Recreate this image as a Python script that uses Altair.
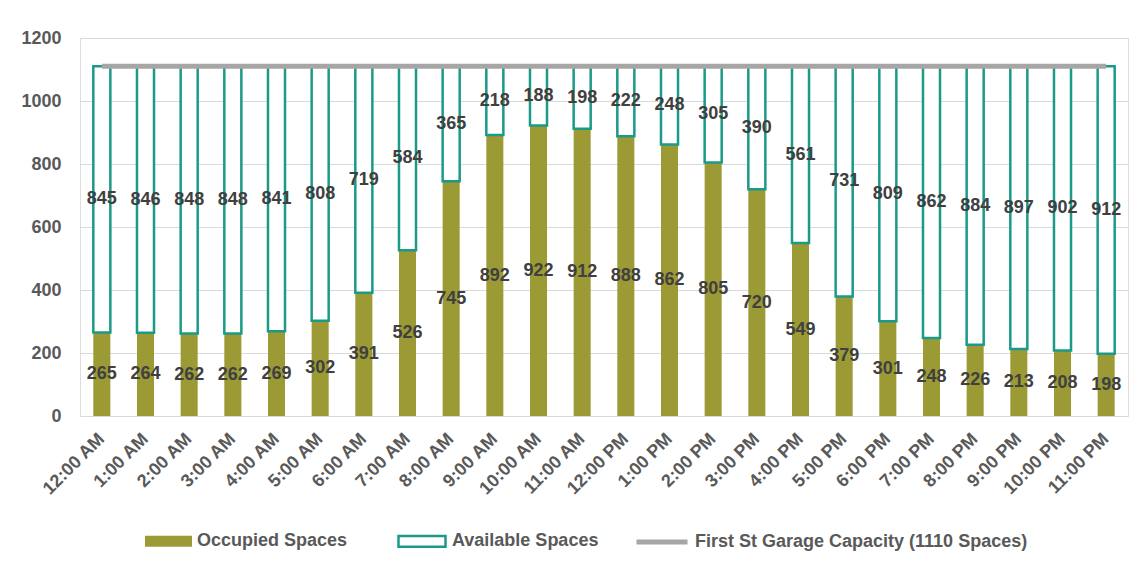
import altair as alt
import pandas as pd

hours = ["12:00 AM", "1:00 AM", "2:00 AM", "3:00 AM", "4:00 AM", "5:00 AM",
         "6:00 AM", "7:00 AM", "8:00 AM", "9:00 AM", "10:00 AM", "11:00 AM",
         "12:00 PM", "1:00 PM", "2:00 PM", "3:00 PM", "4:00 PM", "5:00 PM",
         "6:00 PM", "7:00 PM", "8:00 PM", "9:00 PM", "10:00 PM", "11:00 PM"]
occupied = [265, 264, 262, 262, 269, 302, 391, 526, 745, 892, 922, 912,
            888, 862, 805, 720, 549, 379, 301, 248, 226, 213, 208, 198]
available = [845, 846, 848, 848, 841, 808, 719, 584, 365, 218, 188, 198,
             222, 248, 305, 390, 561, 731, 809, 862, 884, 897, 902, 912]
capacity_value = 1110
series_names = ["Occupied Spaces", "Available Spaces"]
capacity_name = "First St Garage Capacity (1110 Spaces)"
y_ticks = [0, 200, 400, 600, 800, 1000, 1200]

OLIVE = "#9B9A35"
TEAL = "#1B9A87"
GRAY = "#A6A6A6"
FONT = "Liberation Sans"
FS = 18

rows = []
for h, o, a in zip(hours, occupied, available):
    rows.append({"hour": h, "series": series_names[0], "value": o, "ord": 0})
    rows.append({"hour": h, "series": series_names[1], "value": a, "ord": 1})
bars_df = pd.DataFrame(rows)
cap_df = pd.DataFrame({"hour": hours,
                       "capacity": [capacity_value] * len(hours),
                       "series": [capacity_name] * len(hours)})

x_enc = alt.X("hour:N", sort=hours,
              scale=alt.Scale(paddingInner=0.61, paddingOuter=0.305),
              axis=alt.Axis(title=None, labelAngle=-45, labelAlign="right",
                            labelBaseline="middle", labelPadding=20,
                            ticks=False, domain=False, labelFont=FONT,
                            labelFontSize=FS, labelFontWeight="bold",
                            labelColor="#595959"))

y_enc = alt.Y("value:Q", stack="zero",
              scale=alt.Scale(domain=[0, 1200], nice=False),
              axis=alt.Axis(title=None, values=y_ticks, format="d", ticks=False,
                            domain=False, grid=True, gridColor="#D9D9D9",
                            gridWidth=1, labelPadding=19, labelFont=FONT,
                            labelFontSize=FS, labelFontWeight="bold",
                            labelColor="#595959"))

legend_common = dict(orient="none", legendX=65, legendY=478,
                     direction="horizontal", title=None,
                     symbolType="M-1,-0.23H1V0.23H-1Z", symbolSize=2209,
                     symbolStrokeWidth=2.5, labelFont=FONT, labelFontSize=FS,
                     labelFontWeight="bold", labelColor="#595959",
                     labelOffset=5, columnPadding=45, padding=0,
                     labelLimit=400)

bars = alt.Chart(bars_df).mark_bar().encode(
    x=x_enc,
    y=y_enc,
    fill=alt.Fill("series:N",
                  scale=alt.Scale(domain=series_names, range=[OLIVE, "#FFFFFF"]),
                  legend=alt.Legend(**legend_common)),
    stroke=alt.Stroke("series:N",
                      scale=alt.Scale(domain=series_names, range=[OLIVE, TEAL]),
                      legend=alt.Legend(**legend_common)),
    strokeWidth=alt.StrokeWidth("series:N",
                                scale=alt.Scale(domain=series_names, range=[0, 2.5]),
                                legend=None),
    order=alt.Order("ord:Q"),
)

cap = alt.Chart(cap_df).mark_line(strokeWidth=5).encode(
    x=alt.X("hour:N", sort=hours),
    y=alt.Y("capacity:Q"),
    color=alt.Color("series:N",
                    scale=alt.Scale(domain=[capacity_name], range=[GRAY]),
                    legend=alt.Legend(orient="none", legendX=554, legendY=476,
                                      title=None, symbolType="stroke",
                                      symbolSize=2601, symbolStrokeWidth=5,
                                      labelFont=FONT, labelFontSize=FS,
                                      labelFontWeight="bold",
                                      labelColor="#595959", labelOffset=5,
                                      padding=0, labelLimit=400)),
)

labels = alt.Chart(bars_df).transform_stack(
    stack="value", groupby=["hour"], sort=[alt.SortField("ord")],
    as_=["y0", "y1"]
).transform_calculate(
    mid="(datum.y0 + datum.y1) / 2"
).mark_text(font=FONT, fontSize=FS, fontWeight="bold", color="#404040").encode(
    x=alt.X("hour:N", sort=hours),
    y=alt.Y("mid:Q"),
    text=alt.Text("value:Q"),
)

chart = alt.layer(bars, cap, labels).properties(
    width=1048, height=378,
    autosize=alt.AutoSizeParams(type="none"),
    padding={"left": 72, "top": 30, "right": 10, "bottom": 140},
).configure_view(stroke=None).configure(font=FONT)

chart.save("out.html", embed_options={"renderer": "svg", "actions": False})
